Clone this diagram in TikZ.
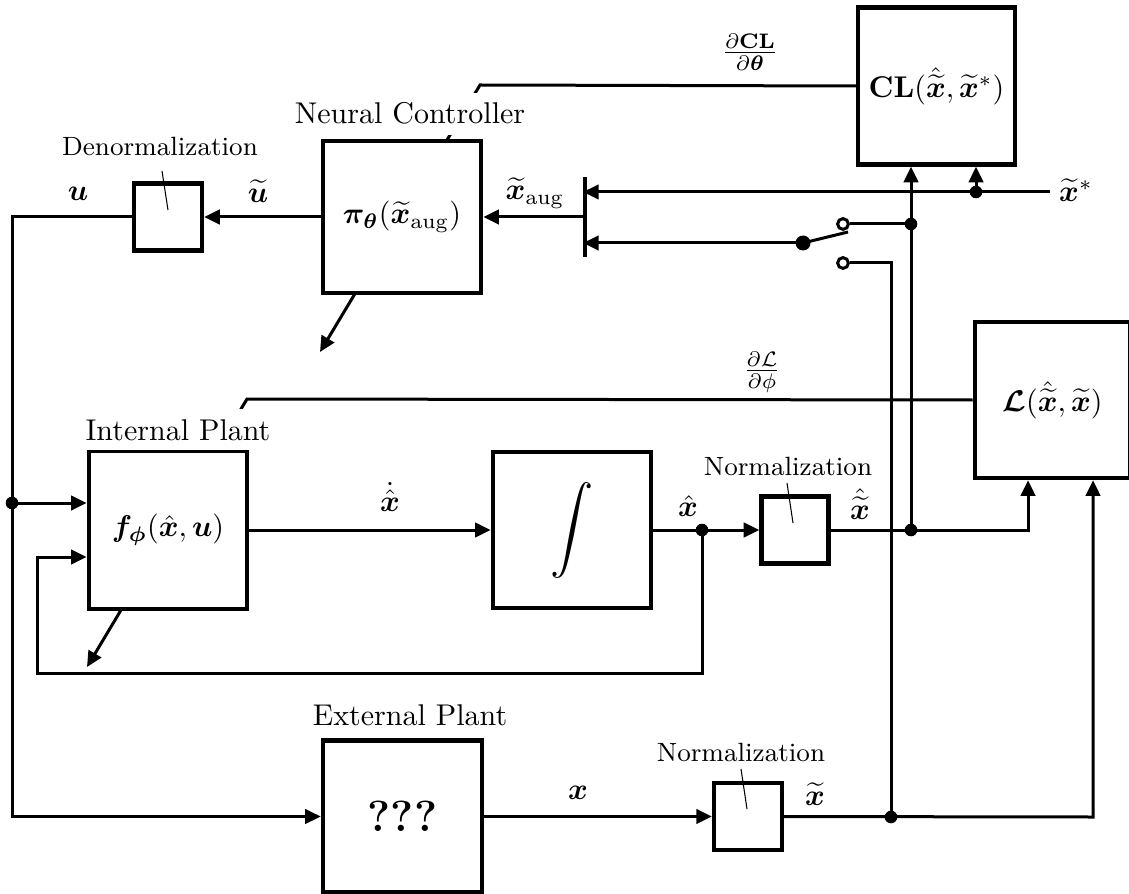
\documentclass[tikz,border=0pt]{standalone}
\usepackage{amsmath}
\usepackage{bm}
\usetikzlibrary{arrows.meta,backgrounds}
\begin{document}
\begin{tikzpicture}[x=0.33333pt,y=-0.33333pt,
  blk/.style={draw, line width=1.5pt, fill=white, inner sep=0pt},
  conn/.style={line width=1pt},
  arr/.style={conn, -{Triangle[length=5.2pt,width=4.8pt]}},
  bar/.style={line width=1.4pt},
  jdot/.style={circle, fill, inner sep=0pt, minimum size=4.2pt},
  pdot/.style={circle, fill, inner sep=0pt, minimum size=5pt},
  odot/.style={circle, draw, line width=1pt, fill=white, inner sep=0pt, minimum size=3.6pt},
  lbl/.style={fill=white},
  smalllbl/.style={font=\fontsize{8.8}{10}\selectfont},
  pinline/.style={line width=0.35pt}]
\useasboundingbox (0,0) rectangle (1129,894);

% ---------- blocks ----------
\node[blk, minimum width=52.3pt, minimum height=52.3pt] (CL) at (936.5,86) {$\mathbf{CL}(\hat{\widetilde{\bm x}},\widetilde{\bm x}^*)$};
\node[blk, minimum width=52.7pt, minimum height=50.7pt] (NC) at (402,217) {$\bm\pi_{\bm\theta}(\widetilde{\bm x}_{\mathrm{aug}})$};
\node[blk, minimum width=22.6pt, minimum height=22.3pt] (Den) at (168,217) {};
\node[blk, minimum width=52.7pt, minimum height=52.7pt] (IP) at (168,530) {$\bm f_{\bm\phi}(\hat{\bm x},\bm u)$};
\node[blk, minimum width=52.7pt, minimum height=52pt] (Int) at (572,530) {\fontsize{15.6}{18}\selectfont$\displaystyle\int$};
\node[blk, minimum width=22.3pt, minimum height=22.3pt] (N1) at (795,530) {};
\node[blk, minimum width=51.7pt, minimum height=52pt] (L) at (1052.5,400) {$\bm{\mathcal L}(\hat{\widetilde{\bm x}},\widetilde{\bm x})$};
\node[blk, minimum width=53pt, minimum height=50.7pt] (EP) at (402.5,816.5) {\fontsize{14.5}{17}\selectfont\bfseries ???};
\node[blk, minimum width=22.6pt, minimum height=22.3pt] (N2) at (748,816.5) {};

% ---------- coordinates ----------
\coordinate (muxtop) at (585,177);
\coordinate (muxbot) at (585,257);
\coordinate (xs) at (1050,192);
\coordinate (jxs) at (976,192);
\coordinate (mx1) at (583,192);
\coordinate (mx2) at (583,243);
\coordinate (mxo) at (585,217);
\coordinate (piv) at (803,243);
\coordinate (lev) at (848,232);
\node[odot] (c1) at (843,224) {};
\node[odot] (c2) at (843,263) {};
\coordinate (j2) at (911,224);
\coordinate (j3) at (911,530);
\coordinate (j4) at (702,530);
\coordinate (j5) at (891,817);
\coordinate (j1) at (12,503);
\coordinate (lu) at (12,217);
\coordinate (lx1) at (1028,530);
\coordinate (lx2) at (1093,817);
\coordinate (fb1) at (702,673);
\coordinate (fb2) at (37,673);
\coordinate (fb3) at (37,557);
\coordinate (g1) at (480,85);
\coordinate (g1e) at (320,352);
\coordinate (g2) at (247,399);
\coordinate (g2e) at (87,667);

% ---------- gradient lines (behind blocks) ----------
\begin{pgfonlayer}{background}
\draw[arr] (CL.west) -- (g1) -- (g1e);
\draw[arr] (L.west) -- (g2) -- (g2e);
\end{pgfonlayer}

% ---------- mux bar and switch ----------
\draw[bar] (muxtop) -- (muxbot);
\draw[arr] (xs) -- (mx1);
\draw[arr] (jxs) -- (jxs |- CL.south);
\draw[arr] (piv) -- (mx2);
\draw[conn] (piv) -- (lev);
\draw[conn] (c1.east) -- (j2);
\draw[conn] (c2.east) -- (c2 -| j5) -- (j5);
\draw[arr] (mxo) -- (mxo -| NC.east);

% ---------- signal lines ----------
\draw[arr] (NC.west) -- (Den.east);
\draw[arr] (Den.west) -- (lu) -- (lu |- EP.west) -- (EP.west);
\draw[arr] (j1) -- (j1 -| IP.west);
\draw[arr] (IP.east) -- (Int.west);
\draw[arr] (Int.east) -- (N1.west);
\draw[arr] (j4) -- (fb1) -- (fb2) -- (fb3) -- (fb3 -| IP.west);
\draw[arr] (N1.east) -- (lx1) -- (lx1 |- L.south);
\draw[arr] (j3) -- (j3 |- CL.south);
\draw[arr] (EP.east) -- (N2.west);
\draw[arr] (N2.east) -- (lx2) -- (lx2 |- L.south);

% ---------- junction dots ----------
\node[jdot] at (j1) {};
\node[jdot] at (j2) {};
\node[jdot] at (j3) {};
\node[jdot] at (j4) {};
\node[jdot] at (j5) {};
\node[jdot] at (jxs) {};
\node[pdot] at (piv) {};

% ---------- block titles ----------
\node[lbl, anchor=base] (NClbl) at (410,124) {Neural Controller};
\node[lbl, anchor=base] (IPlbl) at (178,440) {Internal Plant};
\node[anchor=base] (EPlbl) at (410,725) {External Plant};
\node[smalllbl, anchor=base] (Denlbl) at (160,156) {Denormalization};
\node[smalllbl, anchor=base] (N1lbl) at (788,475) {Normalization};
\node[smalllbl, anchor=base] (N2lbl) at (741,761) {Normalization};
\coordinate (pa1) at (162,171);
\coordinate (pb1) at (168,210);
\coordinate (pa2) at (787,483);
\coordinate (pb2) at (793,523);
\coordinate (pa3) at (741,769);
\coordinate (pb3) at (747,809);
\draw[pinline] (pa1) -- (pb1);
\draw[pinline] (pa2) -- (pb2);
\draw[pinline] (pa3) -- (pb3);

% ---------- signal labels ----------
\node at (78,194) {$\bm u$};
\node at (258,191) {$\widetilde{\bm u}$};
\node at (535,193) {$\widetilde{\bm x}_{\mathrm{aug}}$};
\node at (1076,190) {$\widetilde{\bm x}^*$};
\node at (390,497) {$\dot{\hat{\bm x}}$};
\node at (688,506) {$\hat{\bm x}$};
\node at (860,504) {$\hat{\widetilde{\bm x}}$};
\node at (578,793) {$\bm x$};
\node at (815,794) {$\widetilde{\bm x}$};
\node at (750,52) {$\frac{\partial\mathbf{CL}}{\partial\bm\theta}$};
\node at (762,372) {$\frac{\partial\mathcal{L}}{\partial\phi}$};
\end{tikzpicture}
\end{document}
